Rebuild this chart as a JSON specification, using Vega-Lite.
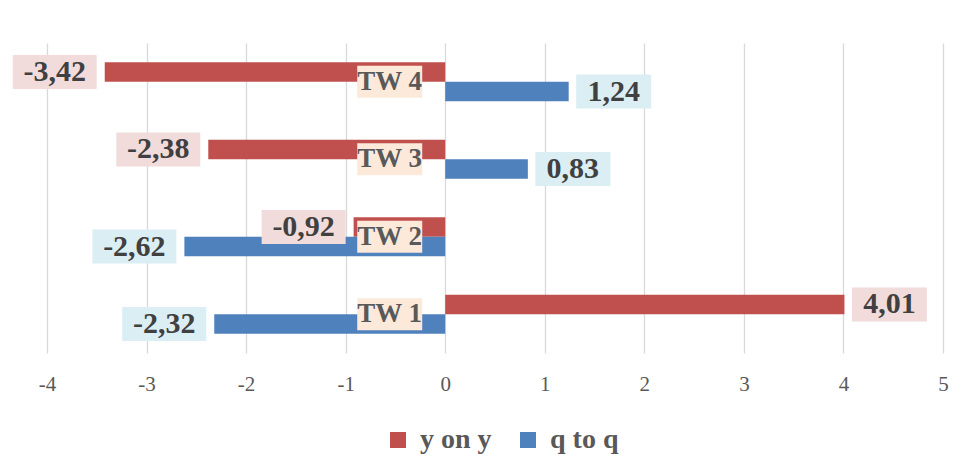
{
  "$schema": "https://vega.github.io/schema/vega-lite/v6.json",
  "width": 954,
  "height": 310,
  "autosize": {"type": "none"},
  "padding": {"left": 8, "top": 43, "right": 4, "bottom": 120},
  "config": {
    "view": {"stroke": null},
    "font": "Liberation Serif",
    "locale": {"number": {"decimal": ",", "thousands": ".", "grouping": [3], "currency": ["", ""], "minus": "-"}}
  },
  "data": {
    "values": [
      {"q": "TW 1", "s": "y on y", "v": 4.01},
      {"q": "TW 1", "s": "q to q", "v": -2.32},
      {"q": "TW 2", "s": "y on y", "v": -0.92},
      {"q": "TW 2", "s": "q to q", "v": -2.62},
      {"q": "TW 3", "s": "y on y", "v": -2.38},
      {"q": "TW 3", "s": "q to q", "v": 0.83},
      {"q": "TW 4", "s": "y on y", "v": -3.42},
      {"q": "TW 4", "s": "q to q", "v": 1.24}
    ]
  },
  "encoding": {
    "y": {
      "field": "q", "type": "nominal",
      "sort": ["TW 4", "TW 3", "TW 2", "TW 1"],
      "scale": {"paddingInner": 0.495, "paddingOuter": 0.2475},
      "axis": null
    }
  },
  "layer": [
    {
      "mark": {"type": "bar"},
      "encoding": {
        "yOffset": {"field": "s", "type": "nominal", "sort": ["y on y", "q to q"]},
        "x": {
          "field": "v", "type": "quantitative",
          "scale": {"domain": [-4.3917, 5.1908], "nice": false, "zero": false},
          "axis": {
            "values": [-4, -3, -2, -1, 0, 1, 2, 3, 4, 5], "format": "d",
            "grid": true, "gridColor": "#D9D9D9", "gridWidth": 1.3,
            "domain": false, "ticks": false,
            "labelFontSize": 21, "labelColor": "#595959", "labelPadding": 20,
            "labelFont": "Liberation Serif", "title": null
          }
        },
        "color": {
          "field": "s", "type": "nominal",
          "scale": {"domain": ["y on y", "q to q"], "range": ["#C0504D", "#4F81BD"]},
          "legend": {
            "orient": "none", "legendX": 376, "legendY": 383, "direction": "horizontal",
            "title": null, "symbolType": "square", "symbolSize": 256, "symbolStrokeWidth": 0,
            "labelFontSize": 28, "labelFontWeight": "bold", "labelColor": "#595959",
            "labelFont": "Liberation Serif", "labelOffset": 8, "columnPadding": 22, "padding": 0
          }
        }
      }
    },
    {
      "transform": [{"filter": "datum.v < 0"}],
      "mark": {"type": "point", "shape": "M-1,-0.405H1V0.405H-1Z", "size": 7056, "filled": true, "opacity": 1, "strokeWidth": 0, "xOffset": -50},
      "encoding": {
        "yOffset": {"field": "s", "type": "nominal", "sort": ["y on y", "q to q"]},
        "x": {"field": "v", "type": "quantitative"},
        "fill": {"field": "s", "type": "nominal", "scale": {"domain": ["y on y", "q to q"], "range": ["#F2DCDB", "#DBEEF4"]}, "legend": null}
      }
    },
    {
      "transform": [{"filter": "datum.v >= 0"}],
      "mark": {"type": "point", "shape": "M-1,-0.453H1V0.453H-1Z", "size": 5625, "filled": true, "opacity": 1, "strokeWidth": 0, "xOffset": 45},
      "encoding": {
        "yOffset": {"field": "s", "type": "nominal", "sort": ["y on y", "q to q"]},
        "x": {"field": "v", "type": "quantitative"},
        "fill": {"field": "s", "type": "nominal", "scale": {"domain": ["y on y", "q to q"], "range": ["#F2DCDB", "#DBEEF4"]}, "legend": null}
      }
    },
    {
      "transform": [{"filter": "datum.v < 0"}],
      "mark": {"type": "text", "align": "center", "baseline": "middle", "xOffset": -50, "fontSize": 30, "fontWeight": "bold", "color": "#404040", "font": "Liberation Serif"},
      "encoding": {
        "yOffset": {"field": "s", "type": "nominal", "sort": ["y on y", "q to q"]},
        "x": {"field": "v", "type": "quantitative"},
        "text": {"field": "v", "type": "quantitative", "format": ".2f"}
      }
    },
    {
      "transform": [{"filter": "datum.v >= 0"}],
      "mark": {"type": "text", "align": "center", "baseline": "middle", "xOffset": 45, "fontSize": 30, "fontWeight": "bold", "color": "#404040", "font": "Liberation Serif"},
      "encoding": {
        "yOffset": {"field": "s", "type": "nominal", "sort": ["y on y", "q to q"]},
        "x": {"field": "v", "type": "quantitative"},
        "text": {"field": "v", "type": "quantitative", "format": ".2f"}
      }
    },
    {
      "transform": [{"filter": "datum.s == 'y on y'"}],
      "mark": {"type": "point", "shape": "M-1,-0.4923H1V0.4923H-1Z", "size": 4225, "filled": true, "opacity": 1, "strokeWidth": 0, "xOffset": -55.5, "color": "#FDE9D9"},
      "encoding": {
        "x": {"datum": 0, "type": "quantitative"}
      }
    },
    {
      "transform": [{"filter": "datum.s == 'y on y'"}],
      "mark": {"type": "text", "align": "center", "baseline": "middle", "xOffset": -55.5, "fontSize": 27, "fontWeight": "bold", "color": "#595959", "font": "Liberation Serif"},
      "encoding": {
        "x": {"datum": 0, "type": "quantitative"},
        "text": {"field": "q", "type": "nominal"}
      }
    }
  ]
}
